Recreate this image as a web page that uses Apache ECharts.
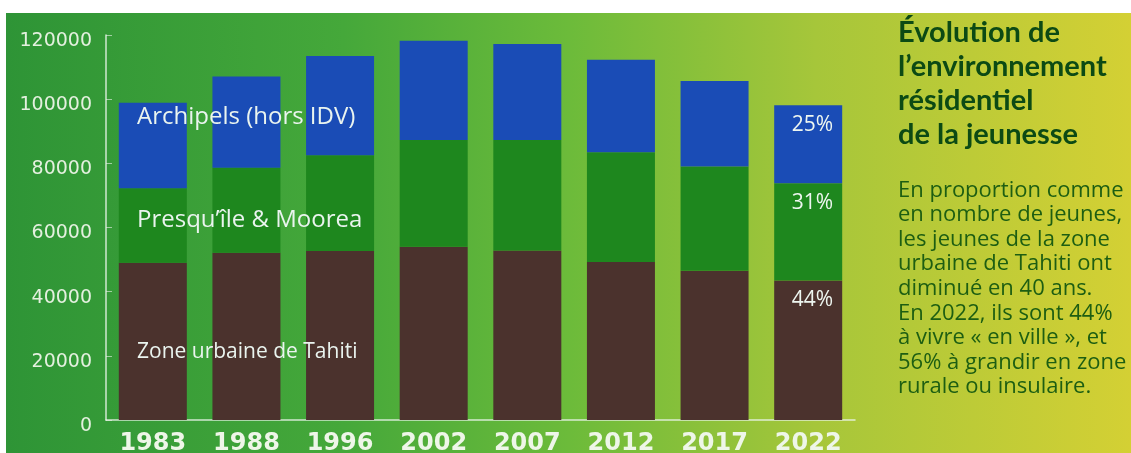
<!DOCTYPE html>
<html>
<head>
<meta charset="utf-8">
<script src="https://cdn.jsdelivr.net/npm/echarts@6/dist/echarts.min.js"></script>
<style>
  html, body { margin: 0; padding: 0; background: #ffffff; }
  #chart { width: 1131px; height: 453px; }
</style>
</head>
<body>
<div id="chart"></div>
<script>
// Recensements
const years = ['1983', '1988', '1996', '2002', '2007', '2012', '2017', '2022'];

// Nombre de jeunes par lieu de résidence
const zoneUrbaine = [49000, 52150, 52700, 54000, 52800, 49250, 46500, 43500];
const presquileMoorea = [23200, 26500, 29800, 33300, 34500, 34200, 32500, 30300];
const archipels = [26700, 28400, 30950, 30900, 29900, 28800, 26700, 24300];

const yTicks = [0, 20000, 40000, 60000, 80000, 100000, 120000];

const seriesNames = ['Zone urbaine de Tahiti', 'Presqu\u2019île & Moorea', 'Archipels (hors IDV)'];
const seriesValues = [zoneUrbaine, presquileMoorea, archipels];
const seriesColors = ['#4b322d', '#1e871e', '#1a4cb6'];

const last = years.length - 1;
const totalLast = zoneUrbaine[last] + presquileMoorea[last] + archipels[last];
const share = v => Math.round(v / totalLast * 100);
const urbanShare = share(zoneUrbaine[last]);

const chart = echarts.init(document.getElementById('chart'), null, { renderer: 'canvas' });

const series = seriesValues.map((vals, i) => ({
  name: seriesNames[i],
  type: 'bar',
  stack: 'jeunes',
  barWidth: 68,
  data: vals,
  itemStyle: { color: seriesColors[i] },
  label: {
    show: true,
    position: 'insideTopRight',
    distance: 9,
    color: '#eef6f0',
    fontFamily: 'Open Sans',
    fontSize: 21,
    formatter: p => (p.dataIndex === last ? share(p.value) + '%' : '')
  }
}));

const labelStyle = { fill: '#eaf4ef', textVerticalAlign: 'middle' };

chart.setOption({
  animation: false,
  backgroundColor: '#ffffff',
  grid: { left: 106, top: 35, width: 749, height: 385, containLabel: false, outerBoundsMode: 'none' },
  xAxis: {
    type: 'category',
    data: years,
    axisLine: { lineStyle: { color: 'rgba(235,245,235,0.85)', width: 1.5 } },
    axisTick: { inside: true, length: 5, lineStyle: { color: 'rgba(235,245,235,0.8)' } },
    axisLabel: {
      color: '#eef6e8',
      fontFamily: 'DejaVu Sans',
      fontWeight: 'bold',
      fontSize: 24,
      margin: 12
    }
  },
  yAxis: {
    type: 'value',
    min: yTicks[0],
    max: yTicks[yTicks.length - 1],
    interval: yTicks[1] - yTicks[0],
    splitLine: { show: false },
    axisLine: { show: true, lineStyle: { color: 'rgba(235,245,235,0.85)', width: 1.5 } },
    axisTick: { show: true, inside: true, length: 6, lineStyle: { color: 'rgba(235,245,235,0.6)' } },
    axisLabel: {
      color: '#e4f0df',
      fontFamily: 'DejaVu Sans',
      fontSize: 19,
      margin: 14,
      verticalAlign: 'top',
      lineHeight: 12,
      formatter: v => String(v)
    }
  },
  series: series,
  graphic: [
    {
      type: 'rect',
      z: -10,
      silent: true,
      shape: { x: 6, y: 13, width: 1125, height: 440 },
      style: {
        fill: new echarts.graphic.LinearGradient(0, 0, 1, 0, [
          { offset: 0, color: '#2e9436' },
          { offset: 0.3, color: '#45a83a' },
          { offset: 0.5, color: '#6cbb3a' },
          { offset: 0.72, color: '#a6c63a' },
          { offset: 1, color: '#d4d034' }
        ])
      }
    },
    { type: 'text', z: 20, x: 137, y: 117, style: Object.assign({ text: seriesNames[2], font: '24px "Open Sans"' }, labelStyle) },
    { type: 'text', z: 20, x: 137, y: 220, style: Object.assign({ text: seriesNames[1], font: '24px "Open Sans"' }, labelStyle) },
    { type: 'text', z: 20, x: 137, y: 352, style: Object.assign({ text: seriesNames[0], font: '21px "Open Sans"' }, labelStyle) },
    {
      type: 'text',
      z: 20,
      x: 898,
      y: 16,
      style: {
        text: 'Évolution de\nl\u2019environnement\nrésidentiel\nde la jeunesse',
        fill: '#0c4a14',
        font: 'bold 29px Lato',
        lineHeight: 34
      }
    },
    {
      type: 'text',
      z: 20,
      x: 898,
      y: 178,
      style: {
        text: 'En proportion comme\nen nombre de jeunes,\nles jeunes de la zone\nurbaine de Tahiti ont\ndiminué en 40 ans.\nEn 2022, ils sont ' + urbanShare + '%\nà vivre « en ville », et\n' + (100 - urbanShare) + '% à grandir en zone\nrurale ou insulaire.',
        fill: '#1d5e12',
        font: '22px "Open Sans"',
        lineHeight: 24.6
      }
    }
  ]
});
</script>
</body>
</html>
